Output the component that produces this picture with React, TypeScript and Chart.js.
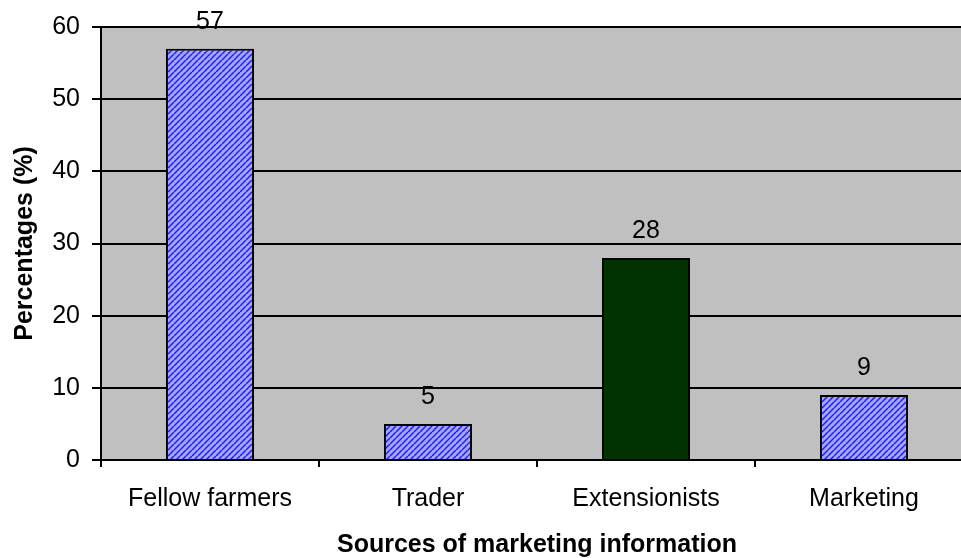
import React, { useEffect, useRef } from "react";
import { Chart, registerables } from "chart.js";

Chart.register(...registerables);

const categories = ["Fellow farmers", "Trader", "Extensionists", "Marketing"];
const percentages = [57, 5, 28, 9];
const solidBars = [false, false, true, false];
const yTicks = [0, 10, 20, 30, 40, 50, 60];

const FONT = "'Liberation Sans', Arial, sans-serif";

// Diagonal "/" hatch used by the patterned bars.
function makeHatch(): CanvasPattern | string {
  const size = 6;
  const tile = document.createElement("canvas");
  tile.width = size;
  tile.height = size;
  const c = tile.getContext("2d");
  if (!c) return "#8080FF";
  c.fillStyle = "#A6A6FF";
  c.fillRect(0, 0, size, size);
  c.strokeStyle = "#1C1CFF";
  c.lineWidth = 1.5;
  for (let k = -1; k <= 1; k++) {
    c.beginPath();
    c.moveTo(k * size, size);
    c.lineTo(k * size + size, 0);
    c.stroke();
  }
  const p = c.createPattern(tile, "repeat");
  return p || "#8080FF";
}

const plotBackground = {
  id: "plotBackground",
  beforeDraw(chart: any) {
    const { ctx, chartArea } = chart;
    ctx.save();
    ctx.fillStyle = "#C0C0C0";
    ctx.fillRect(chartArea.left, chartArea.top, chartArea.right - chartArea.left, chartArea.bottom - chartArea.top);
    ctx.restore();
  },
};

const valueLabels = {
  id: "valueLabels",
  afterDatasetsDraw(chart: any) {
    const { ctx } = chart;
    const meta = chart.getDatasetMeta(0);
    const values = chart.data.datasets[0].data as number[];
    ctx.save();
    ctx.font = `25px ${FONT}`;
    ctx.fillStyle = "#000";
    ctx.textAlign = "center";
    ctx.textBaseline = "alphabetic";
    meta.data.forEach((bar: any, i: number) => {
      ctx.fillText(String(values[i]), bar.x, bar.y - 20);
    });
    ctx.restore();
  },
};

export default function App() {
  const canvasRef = useRef<HTMLCanvasElement | null>(null);

  useEffect(() => {
    if (!canvasRef.current) return;
    const hatch = makeHatch();
    const chart = new Chart(canvasRef.current, {
      type: "bar",
      data: {
        labels: categories,
        datasets: [
          {
            data: percentages,
            backgroundColor: solidBars.map((s) => (s ? "#003300" : hatch)) as any,
            borderColor: "#000",
            borderWidth: 2,
            barPercentage: 0.404,
            categoryPercentage: 1,
          },
        ],
      },
      options: {
        responsive: false,
        animation: false,
        events: [],
        layout: { padding: { top: 23, right: 17, left: 0, bottom: 0 } },
        plugins: {
          legend: { display: false },
          tooltip: { enabled: false },
        },
        scales: {
          x: {
            offset: true,
            grid: {
              offset: true,
              drawOnChartArea: false,
              drawTicks: true,
              tickLength: 7,
              color: "#000",
              lineWidth: 2,
            },
            border: { display: true, color: "#000", width: 2 },
            ticks: {
              color: "#000",
              font: { family: FONT, size: 25 },
              padding: 17,
              maxRotation: 0,
              autoSkip: false,
            },
            title: {
              display: true,
              text: "Sources of marketing information",
              color: "#000",
              font: { family: FONT, size: 25, weight: "bold", lineHeight: 1.05 },
              padding: { top: 0, bottom: 0 },
            },
            afterFit(scale: any) {
              scale.height = 98;
            },
          },
          y: {
            min: 0,
            max: 60,
            afterBuildTicks(scale: any) {
              scale.ticks = yTicks.map((v) => ({ value: v }));
            },
            grid: {
              color: "#000",
              lineWidth: 2,
              drawTicks: true,
              tickLength: 9,
            },
            border: { display: true, color: "#000", width: 2 },
            ticks: {
              color: "#000",
              font: { family: FONT, size: 25 },
              padding: 12,
            },
            title: {
              display: true,
              text: "Percentages (%)",
              color: "#000",
              font: { family: FONT, size: 25, weight: "bold" },
              padding: { top: 10, bottom: 0 },
            },
            afterFit(scale: any) {
              scale.width = 101;
            },
          },
        },
      },
      plugins: [plotBackground, valueLabels],
    });
    return () => chart.destroy();
  }, []);

  return (
    <div
      style={{
        position: "fixed",
        left: 0,
        top: 0,
        width: 961,
        height: 558,
        overflow: "hidden",
        background: "#fff",
      }}
    >
      <canvas ref={canvasRef} width={990} height={558} style={{ display: "block" }} />
    </div>
  );
}
